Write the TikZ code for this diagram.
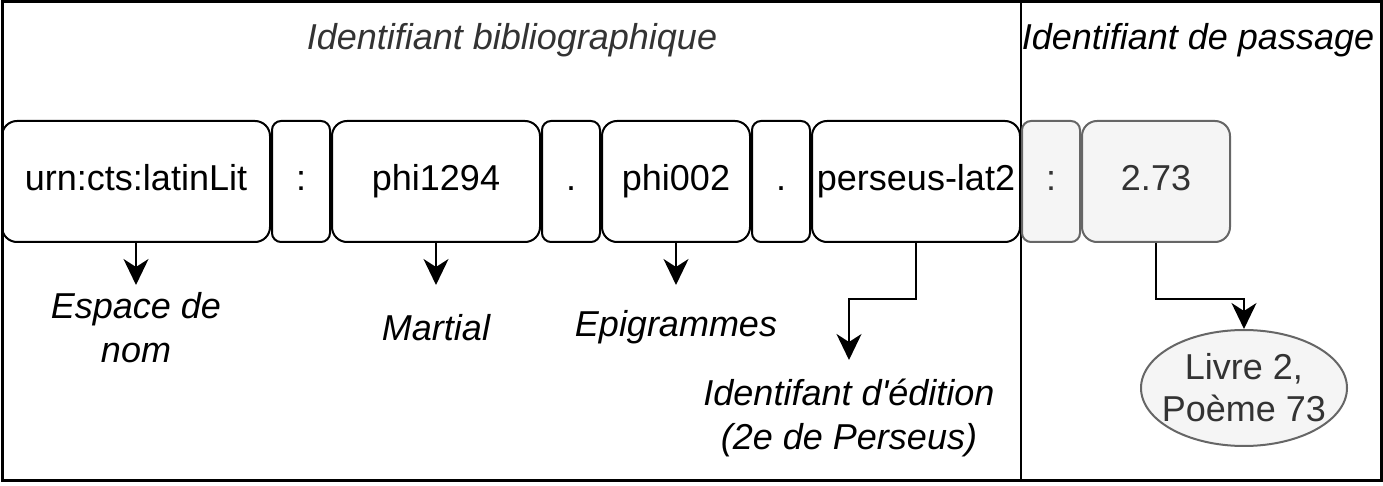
\documentclass[tikz,border=0pt]{standalone}
\usepackage{fontspec}
\newfontfamily\arialf{Liberation Sans}
\usetikzlibrary{arrows.meta,shapes.geometric}
\definecolor{gtext}{HTML}{333333}
\definecolor{gfill}{HTML}{F5F5F5}
\definecolor{gline}{HTML}{666666}
\begin{document}
\begin{tikzpicture}[x=0.5pt,y=-0.5pt,
  seg/.style={draw=black, line width=1pt, rounded corners=7.5pt, inner sep=0pt,
    minimum height=60.5pt, text height=13pt, text depth=3.8pt,
    font=\arialf\fontsize{18}{21.6}\selectfont},
  sepbox/.style={seg, rounded corners=4.5pt, minimum width=29pt},
  grey/.style={fill=gfill, draw=gline, text=gtext},
  lab/.style={font=\arialf\fontsize{18}{22}\selectfont\itshape, align=center, inner sep=0pt, minimum height=42pt},
  ttl/.style={font=\arialf\fontsize{18}{21.6}\selectfont\itshape, inner sep=0pt},
  arr/.style={line width=1pt, -{Stealth[length=13pt,width=12.5pt,inset=4pt]}}]
\useasboundingbox (0,0) rectangle (1383,486);
% frame
\draw[line width=1.5pt] (2,2) rectangle (1381,481);
\draw[line width=1.2pt] (1021,2) -- (1021,481);
% titles
\node[ttl, text=gtext] (tbib) at (512,40) {Identifiant bibliographique};
\node[ttl] (tpas) at (1198,40) {Identifiant de passage};
% segments
\node[seg, minimum width=134pt] (urn) at (136,181.5) {urn:cts:latinLit};
\node[sepbox] (c1) at (301,181.5) {:};
\node[seg, minimum width=104pt] (phi) at (436,181.5) {phi1294};
\node[sepbox] (d1) at (571,181.5) {.};
\node[seg, minimum width=74pt] (epi) at (676,181.5) {phi002};
\node[sepbox] (d2) at (781,181.5) {.};
\node[seg, minimum width=104pt] (per) at (916,181.5) {perseus-lat2};
\node[sepbox, grey] (c2) at (1051,181.5) {:};
\node[seg, grey, minimum width=74pt] (pas) at (1156,181.5) {2.73};
% labels
\node[lab, anchor=north] (lesp) at (136,285) {Espace de\\nom};
\node[lab, anchor=north] (lmar) at (436,285) {Martial};
\node[lab, anchor=north] (lepi) at (676,285) {Epigrammes};
\node[lab, anchor=north, minimum height=57.5pt] (led) at (849,360) {Identifant d'édition\\(2e de Perseus)};
\node[ellipse, draw=gline, fill=gfill, line width=1pt, text=gtext, align=center,
  minimum width=103pt, minimum height=58pt, inner xsep=-10pt, inner ysep=0pt,
  font=\arialf\fontsize{18}{21}\selectfont] (liv) at (1244,388) {Livre 2,\\Poème 73};
% arrows
\draw[arr] (urn.south) -- (lesp.north);
\draw[arr] (phi.south) -- (lmar.north);
\draw[arr] (epi.south) -- (lepi.north);
\draw[arr] (per.south) -- ++(0,56) -| (led.north);
\draw[arr] (pas.south) -- ++(0,56) -| (liv.north);
\end{tikzpicture}
\end{document}
